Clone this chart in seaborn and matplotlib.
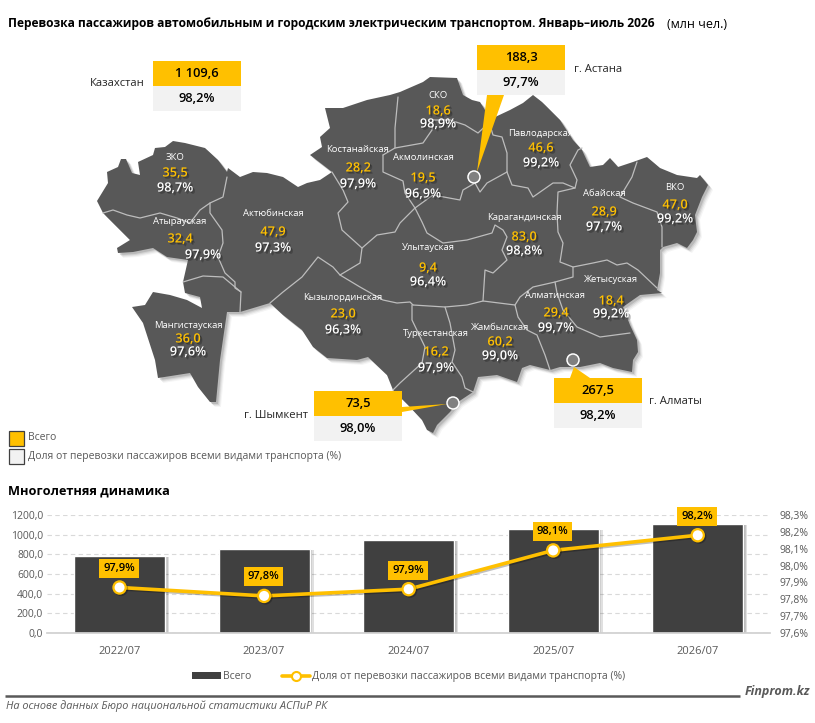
import matplotlib
matplotlib.use('Agg')
import matplotlib.pyplot as plt
import matplotlib.patheffects as pe
from matplotlib.patches import Polygon, Rectangle, Circle, Patch
from matplotlib.lines import Line2D
from matplotlib.ticker import FuncFormatter
import pandas as pd
import seaborn as sns

# data
regions = ['ЗКО', 'Атырауская', 'Актюбинская', 'Костанайская', 'Акмолинская', 'СКО',
           'Павлодарская', 'Абайская', 'ВКО', 'Карагандинская', 'Улытауская',
           'Кызылординская', 'Мангистауская', 'Туркестанская', 'Жамбылская',
           'Алматинская', 'Жетысуская']
region_total = [35.5, 32.4, 47.9, 28.2, 19.5, 18.6, 46.6, 28.9, 47.0, 83.0, 9.4,
                23.0, 36.0, 16.2, 60.2, 29.4, 18.4]
region_share = [98.7, 97.9, 97.3, 97.9, 96.9, 98.9, 99.2, 97.7, 99.2, 98.8, 96.4,
                96.3, 97.6, 97.9, 99.0, 99.7, 99.2]

callouts = ['Казахстан', 'г. Астана', 'г. Шымкент', 'г. Алматы']
callout_total = ['1 109,6', '188,3', '73,5', '267,5']
callout_share = [98.2, 97.7, 98.0, 98.2]

periods = ['2022/07', '2023/07', '2024/07', '2025/07', '2026/07']
totals = [783, 854, 946, 1058, 1109.6]
share_line = [97.87, 97.82, 97.86, 98.09, 98.18]
share_labels = [97.9, 97.8, 97.9, 98.1, 98.2]

# colours
YELLOW = '#FFC000'
BOXGRAY = '#F2F2F2'
MAPGRAY = '#585858'
BARGRAY = '#404040'
TXTGRAY = '#595959'

# map geometry in image pixels
outline = [(97, 201), (108, 183), (107, 172), (118, 167), (121, 159), (126, 159), (132, 173),
           (140, 175), (138, 162), (153, 155), (155, 148), (165, 147), (173, 141), (185, 143),
           (205, 148), (218, 160), (227, 172), (228, 168), (240, 177), (253, 172), (267, 173),
           (283, 177), (298, 187), (307, 183), (320, 180), (332, 172), (323, 165), (310, 155),
           (322, 147), (320, 137), (330, 128), (325, 108), (343, 108), (367, 100), (390, 95),
           (400, 92), (423, 82), (430, 77), (457, 78), (463, 95), (472, 100), (480, 102),
           (485, 110), (493, 118), (510, 110), (523, 103), (533, 95), (542, 102), (560, 120),
           (573, 140), (582, 150), (590, 167), (603, 165), (610, 158), (618, 167), (633, 162),
           (647, 157), (660, 168), (677, 175), (697, 178), (700, 175), (708, 185), (702, 197),
           (695, 215), (697, 232), (693, 240), (687, 248), (677, 243), (663, 247), (660, 250),
           (660, 273), (657, 290), (662, 293), (640, 295), (630, 302), (623, 307), (630, 325),
           (637, 340), (638, 352), (633, 360), (632, 372), (613, 368), (600, 363), (580, 367),
           (560, 367), (550, 370), (530, 365), (522, 368), (517, 382), (497, 375), (478, 377),
           (473, 392), (458, 402), (450, 412), (437, 425), (433, 433), (427, 430), (422, 420),
           (408, 405), (393, 390), (387, 375), (368, 357), (357, 360), (327, 358), (313, 347),
           (302, 330), (283, 315), (270, 303), (240, 312), (227, 312), (220, 360), (216, 402),
           (210, 402), (198, 387), (190, 373), (158, 378), (155, 360), (143, 323), (132, 307),
           (145, 305), (153, 292), (170, 295), (187, 300), (202, 308), (200, 297), (185, 293),
           (183, 282), (188, 260), (167, 257), (153, 248), (133, 252), (118, 253), (117, 248),
           (130, 240), (113, 223), (103, 213)]

borders = [
    [(103, 213), (113, 210), (127, 215), (140, 218), (160, 213), (177, 218), (190, 223),
     (200, 210), (210, 203), (223, 197), (227, 177)],
    [(210, 203), (210, 213), (222, 230), (223, 243), (218, 257), (225, 273), (235, 282),
     (235, 288), (241, 292), (240, 312)],
    [(183, 282), (203, 276), (223, 277), (241, 292)],
    [(332, 172), (343, 190), (348, 202), (338, 213), (342, 230), (362, 248), (360, 263),
     (340, 275), (360, 287), (383, 300), (397, 303), (410, 302), (413, 305)],
    [(270, 303), (283, 292), (302, 277), (318, 257), (333, 267), (340, 275)],
    [(362, 248), (377, 235), (395, 232), (400, 223), (415, 208), (433, 195), (460, 200),
     (463, 190), (475, 183), (480, 192), (487, 183), (507, 172)],
    [(383, 155), (383, 172), (403, 181), (405, 193), (415, 208)],
    [(398, 97), (395, 128), (395, 148), (383, 155)],
    [(395, 148), (423, 143), (432, 130), (433, 120), (450, 120), (465, 125), (478, 133),
     (492, 120)],
    [(490, 125), (493, 135), (502, 137), (507, 153), (507, 172)],
    [(507, 172), (512, 185), (528, 188), (533, 197), (553, 183), (563, 183), (575, 188),
     (577, 180), (570, 165), (578, 150), (582, 148)],
    [(575, 188), (558, 192), (557, 213), (558, 232), (563, 243), (560, 262), (573, 267),
     (593, 263), (607, 260), (617, 265), (627, 263), (638, 270), (657, 288)],
    [(573, 267), (573, 277), (555, 282), (533, 287), (520, 297), (515, 305), (518, 317),
     (527, 330), (537, 335), (545, 355), (550, 370)],
    [(637, 162), (632, 177), (620, 197), (633, 203), (657, 212), (662, 227), (662, 247)],
    [(555, 282), (557, 293), (563, 310), (577, 327), (600, 337), (630, 333)],
    [(415, 208), (422, 222), (427, 233), (443, 243), (467, 240), (492, 233), (495, 225),
     (503, 230), (507, 237), (502, 250), (507, 260), (493, 273), (485, 270), (483, 301)],
    [(413, 305), (445, 307), (467, 305), (483, 301), (515, 305)],
    [(412, 305), (412, 320), (425, 347), (422, 363), (400, 383), (393, 390)],
    [(445, 307), (450, 323), (455, 350), (452, 362), (462, 377), (465, 388), (475, 393)],
]

# label centres: name, value, share
label_xy = [
    ((175, 157), (175, 173), (175, 188)), ((180, 222), (180, 239), (203, 255)),
    ((273, 213), (273, 232), (273, 248)), ((358, 150), (358, 168), (358, 184)),
    ((423, 157), (423, 178), (423, 194)), ((438, 96), (438, 111), (438, 124)),
    ((541, 134), (541, 148), (541, 163)), ((604, 193), (604, 212), (604, 227)),
    ((675, 188), (675, 205), (675, 219)), ((524, 218), (524, 237), (524, 251)),
    ((428, 248), (428, 268), (428, 282)), ((343, 297), (343, 314), (343, 330)),
    ((188, 325), (188, 339), (188, 352)), ((436, 334), (436, 352), (436, 368)),
    ((500, 328), (500, 342), (500, 356)), ((555, 295), (556, 313), (556, 328)),
    ((611, 280), (611, 301), (611, 314)),
]

# callout boxes: left, top, label x, label y, label alignment
box_xy = [(153, 61, 145, 84, 'right'), (477, 45, 574, 69, 'left'),
          (314, 391, 308, 415, 'right'), (554, 378, 649, 402, 'left')]
pointers = [[(487, 95), (504, 95), (477, 172)],
            [(402, 407), (402, 412), (447, 404)],
            [(570, 378), (590, 378), (574, 367)]]
dots = [(474, 177), (453, 403), (573, 360)]


def comma(v, digits=1):
    return f'{v:.{digits}f}'.replace('.', ',')


sns.set_theme(style='white')
plt.rcParams['font.family'] = ['Open Sans', 'DejaVu Sans']

fig = plt.figure(figsize=(8.15, 7.23), dpi=100)
ax_map = fig.add_axes([0, 0, 1, 1])
ax_map.set_xlim(0, 815)
ax_map.set_ylim(723, 0)
ax_map.axis('off')

# soft shadow under the country
for off, a in [(5, 0.04), (4, 0.06), (3, 0.08), (2, 0.12)]:
    ax_map.add_patch(Polygon([(x + off, y + off) for x, y in outline], closed=True,
                             fc='black', ec='none', alpha=a, zorder=1))
ax_map.add_patch(Polygon(outline, closed=True, fc=MAPGRAY, ec='none', zorder=2))
for line in borders:
    ax_map.plot(*zip(*line), color='#BDBDBD', lw=0.9, zorder=3, solid_joinstyle='round')

shadow = [pe.SimplePatchShadow(offset=(1.6, -1.6), shadow_rgbFace='black', alpha=0.22),
          pe.SimplePatchShadow(offset=(0.9, -0.9), shadow_rgbFace='black', alpha=0.25), pe.Normal()]
for name, total, share, (p1, p2, p3) in zip(regions, region_total, region_share, label_xy):
    ax_map.text(*p1, name, color='white', fontsize=6.8, ha='center', va='center', zorder=6)
    ax_map.text(*p2, comma(total), color=YELLOW, fontsize=9.2, fontweight='semibold', ha='center', va='center',
                zorder=6, path_effects=shadow)
    ax_map.text(*p3, comma(share) + '%', color='white', fontsize=9.2, fontweight='semibold',
                ha='center', va='center', zorder=6, path_effects=shadow)

for tri in pointers:
    ax_map.add_patch(Polygon(tri, closed=True, fc=YELLOW, ec='none', zorder=7))
for d in dots:
    ax_map.add_patch(Circle(d, 6, fc='#808080', ec='white', lw=1.1, zorder=8))

for name, total, share, (bx, by, lx, ly, ha) in zip(callouts, callout_total, callout_share, box_xy):
    ax_map.add_patch(Rectangle((bx, by), 88, 25, fc=YELLOW, ec='none', zorder=9))
    ax_map.add_patch(Rectangle((bx, by + 25), 88, 25, fc=BOXGRAY, ec='none', zorder=9))
    ax_map.text(bx + 44, by + 12.5, total, color='black', fontsize=9.3, fontweight='semibold',
                ha='center', va='center', zorder=10)
    ax_map.text(bx + 44, by + 37.5, comma(share) + '%', color='black', fontsize=9.3,
                fontweight='semibold', ha='center', va='center', zorder=10)
    ax_map.text(lx, ly, name, color='#262626', fontsize=8.1, ha=ha, va='center', zorder=10)

# titles
ax_map.text(8, 24, 'Перевозка пассажиров автомобильным и городским электрическим транспортом. '
            'Январь–июль 2026', color='black', fontsize=8.65, fontweight='bold', va='center')
ax_map.text(667, 24, '(млн чел.)', color='black', fontsize=9, va='center')
ax_map.text(8, 491, 'Многолетняя динамика', color='black', fontsize=9.2, fontweight='bold', va='center')

# map legend
ax_map.add_patch(Rectangle((8.5, 430.5), 15, 15, fc=YELLOW, ec='#404040', lw=0.9))
ax_map.add_patch(Rectangle((8.5, 448.5), 15, 15, fc=BOXGRAY, ec='#404040', lw=0.9))
ax_map.text(28, 438, 'Всего', color=TXTGRAY, fontsize=7.5, va='center')
ax_map.text(28, 456, 'Доля от перевозки пассажиров всеми видами транспорта (%)',
            color=TXTGRAY, fontsize=7.5, va='center')

# footer
ax_map.plot([5, 740], [696, 696], color=TXTGRAY, lw=1.8, solid_capstyle='butt')
ax_map.text(810, 692, 'Finprom.kz', color=TXTGRAY, fontsize=9, fontweight='bold', style='italic',
            ha='right', va='center')
ax_map.text(6, 706, 'На основе данных Бюро национальной статистики АСПиР РК', color=TXTGRAY,
            fontsize=7.85, style='italic', va='center')

# lower chart
df = pd.DataFrame({'period': periods, 'total': totals, 'share': share_line})
ax = fig.add_axes([47.3 / 815, 1 - 633 / 723, 722.7 / 815, 118 / 723])
ax.patch.set_alpha(0)
sns.barplot(data=df, x='period', y='total', color=BARGRAY, saturation=1, width=0.63, ax=ax, zorder=2)
bar_shadow = [pe.SimplePatchShadow(offset=(o, -0.5), shadow_rgbFace='black', alpha=0.12) for o in (3, 2, 1)]
for bar in ax.patches:
    bar.set_path_effects(bar_shadow + [pe.Normal()])
ax.set_xlim(-0.5, 4.5)
ax.set_ylim(0, 1200)
ax.set_yticks(range(0, 1201, 200))
ax.yaxis.set_major_formatter(FuncFormatter(lambda v, _: comma(v)))
ax.grid(axis='y', color='#D9D9D9', ls=(0, (4, 3)), lw=0.8)
ax.set_axisbelow(True)
ax.set_xlabel('')
ax.set_ylabel('')
sns.despine(ax=ax, left=True, right=True, top=True)
ax.spines['bottom'].set_color('#D0D0D0')
ax.tick_params(axis='x', length=0, labelsize=8, labelcolor=TXTGRAY, pad=9)
ax.tick_params(axis='y', length=0, labelsize=7.5, labelcolor=TXTGRAY, pad=3)

ax2 = ax.twinx()
ax2.patch.set_alpha(0)
sns.lineplot(data=df, x='period', y='share', sort=False, color=YELLOW, lw=2.6, marker='o', ms=8.8,
             mfc='white', mec=YELLOW, mew=1.6, ax=ax2, zorder=5,
             path_effects=[pe.SimpleLineShadow(offset=(1, -1), shadow_color='black', alpha=0.25),
                           pe.Normal()])
ax2.set_ylim(97.6, 98.3)
ax2.set_yticks([97.6, 97.7, 97.8, 97.9, 98.0, 98.1, 98.2, 98.3])
ax2.yaxis.set_major_formatter(FuncFormatter(lambda v, _: comma(v) + '%'))
ax2.grid(False)
ax2.set_xlabel('')
ax2.set_ylabel('')
sns.despine(ax=ax2, left=True, right=True, top=True, bottom=True)
ax2.tick_params(axis='y', length=0, labelsize=7.5, labelcolor=TXTGRAY, pad=7)

for i, (v, lab) in enumerate(zip(share_line, share_labels)):
    ax2.annotate(comma(lab) + '%', (i, v), xytext=(-0.5, 13.7), textcoords='offset points',
                 ha='center', va='center', fontsize=8, fontweight='semibold', color='black',
                 bbox=dict(boxstyle='square,pad=0.36', fc=YELLOW, ec='none'), zorder=6,
                 annotation_clip=False)

handles = [Patch(fc=BARGRAY, ec='none', label='Всего'),
           Line2D([0], [0], color=YELLOW, lw=2.6, marker='o', ms=6.5, mfc='white', mec=YELLOW, mew=1.5,
                  label='Доля от перевозки пассажиров всеми видами транспорта (%)')]
fig.legend(handles=handles, loc='center', bbox_to_anchor=(409 / 815, 1 - 676.5 / 723), ncol=2, frameon=False,
           fontsize=7.5, labelcolor=TXTGRAY, handlelength=2.7, handletextpad=0.2, columnspacing=3.0,
           handleheight=0.6)

fig.savefig('out.png', dpi=100)
